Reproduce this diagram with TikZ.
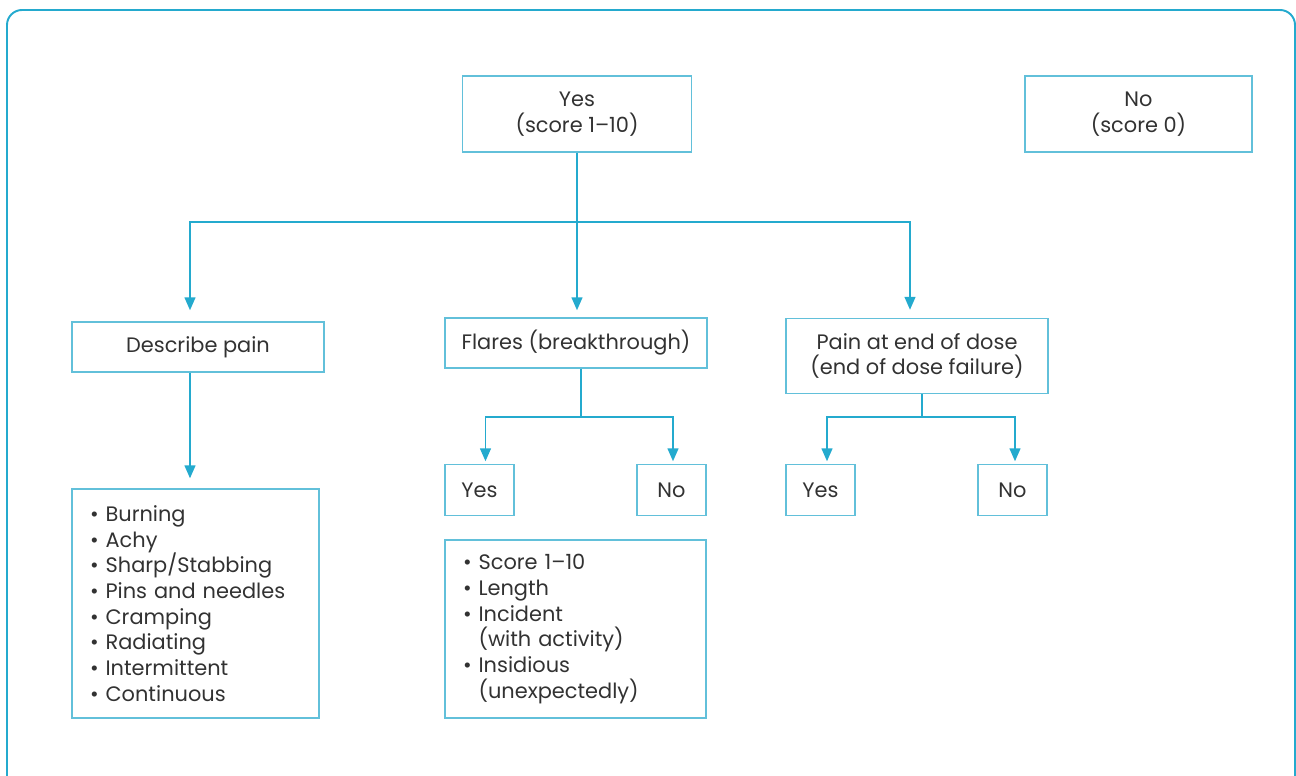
\documentclass[tikz,border=0pt]{standalone}
\usepackage{fontspec}
\setmainfont{Poppins}
\usetikzlibrary{arrows.meta}
\definecolor{framecyan}{RGB}{36,170,206}
\definecolor{boxcyan}{RGB}{98,192,218}
\definecolor{textgrey}{RGB}{50,50,50}
\tikzset{
  box/.style={draw=boxcyan, line width=0.85pt, text=textgrey, inner sep=0pt, align=center,
    font=\fontsize{11.9}{14.6}\selectfont},
  listbox/.style={box, align=left, inner xsep=0.36cm},
  link/.style={draw=framecyan, line width=0.85pt},
  arrow/.style={link, -{Triangle[length=0.26cm,width=0.22cm]}}
}
\newcommand{\bul}{\textbullet\ }
\newcommand{\ind}{\hphantom{\textbullet\ }}
\begin{document}
\begin{tikzpicture}[x=0.02cm, y=-0.02cm]
  \useasboundingbox (0,0) rectangle (1296,776);
  % outer frame
  \draw[framecyan, line width=1.1pt, rounded corners=0.3cm] (7,10) rectangle (1295,800);
  % define the boxes
  \node[box, minimum width=4.58cm, minimum height=1.52cm] (yes) at (577,114) {Yes\\(score 1–10)};
  \node[box, minimum width=4.54cm, minimum height=1.52cm] (no) at (1138.5,114) {No\\(score 0)};
  \node[box, minimum width=5.04cm, minimum height=1cm] (describe) at (198,347) {Describe pain};
  \node[box, minimum width=5.24cm, minimum height=1cm] (flares) at (576,343) {Flares (breakthrough)};
  \node[box, minimum width=5.24cm, minimum height=1.5cm] (dose) at (917,356) {Pain at end of dose\\(end of dose failure)};
  \node[listbox, text width=4.22cm, minimum height=4.58cm] (painlist) at (195.5,603.5)
    {\bul Burning\\\bul Achy\\\bul Sharp/Stabbing\\\bul Pins and needles\\\bul Cramping\\\bul Radiating\\\bul Intermittent\\\bul Continuous};
  \node[box, minimum width=1.38cm, minimum height=1.02cm] (flareyes) at (479.5,490) {Yes};
  \node[box, minimum width=1.38cm, minimum height=1.02cm] (flareno) at (671.5,490) {No};
  \node[listbox, text width=4.5cm, minimum height=3.56cm] (flarelist) at (575.5,629)
    {\bul Score 1–10\\\bul Length\\\bul Incident\\\ind(with activity)\\\bul Insidious\\\ind(unexpectedly)};
  \node[box, minimum width=1.38cm, minimum height=1.02cm] (doseyes) at (820.5,490) {Yes};
  \node[box, minimum width=1.38cm, minimum height=1.02cm] (doseno) at (1012.5,490) {No};
  % define the split points
  \coordinate (topsplit) at (577,222);
  \coordinate (painin) at ([xshift=-0.16cm]describe.south);
  \coordinate (flaresplit) at (581,417);
  \coordinate (dosesplit) at (922,417);
  % draw the connectors
  \draw[link] (yes.south) -- (topsplit);
  \draw[arrow, shorten >=0.22cm] (topsplit) -| ([xshift=-0.16cm]describe.north);
  \draw[arrow, shorten >=0.14cm] (topsplit) -- (topsplit |- flares.north);
  \draw[arrow, shorten >=0.16cm] (topsplit) -| ([xshift=-0.14cm]dose.north);
  \draw[arrow, shorten >=0.2cm] (painin) -- (painin |- painlist.north);
  \draw[link] (flaresplit |- flares.south) -- (flaresplit);
  \draw[arrow, shorten >=0.05cm] (flaresplit) -| ([xshift=0.12cm]flareyes.north);
  \draw[arrow, shorten >=0.05cm] (flaresplit) -| ([xshift=0.03cm]flareno.north);
  \draw[link] (dosesplit |- dose.south) -- (dosesplit);
  \draw[arrow, shorten >=0.05cm] (dosesplit) -| ([xshift=0.13cm]doseyes.north);
  \draw[arrow, shorten >=0.05cm] (dosesplit) -| ([xshift=0.05cm]doseno.north);
\end{tikzpicture}
\end{document}
